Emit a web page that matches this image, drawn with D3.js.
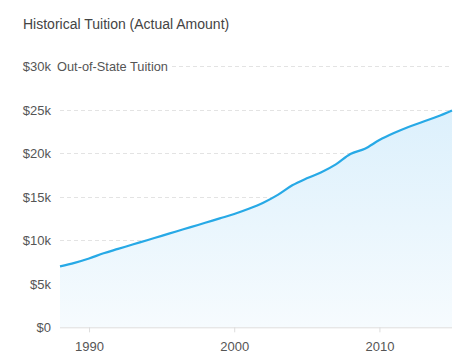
<!DOCTYPE html>
<html><head><meta charset="utf-8">
<script src="https://cdn.jsdelivr.net/npm/d3@7"></script>
<style>
html,body{margin:0;padding:0;background:#fff;}
svg{display:block;font-family:"Liberation Sans",Arial,sans-serif;}
</style></head>
<body><svg id="c" width="467" height="361"></svg>
<script>
const years = [1988,1989,1990,1991,1992,1993,1994,1995,1996,1997,1998,1999,2000,2001,2002,2003,2004,2005,2006,2007,2008,2009,2010,2011,2012,2013,2014,2015];
const tuition = [7000,7400,7900,8500,9000,9500,10000,10500,11000,11500,12000,12500,13000,13600,14300,15200,16300,17100,17800,18700,19900,20500,21500,22300,23000,23600,24200,24900];
const yTicks = [0,5000,10000,15000,20000,25000,30000];
const xTicks = [1990,2000,2010];
const title = "Historical Tuition (Actual Amount)";
const seriesName = "Out-of-State Tuition";

(function(){
const svg = d3.select("#c");
const mL = 60, mR = 452, mT = 66, mB = 327.3;
const x = d3.scaleLinear().domain([1988,2015]).range([mL,mR]);
const y = d3.scaleLinear().domain([0,30000]).range([mB,mT]);
const data = years.map((d,i)=>({year:d,v:tuition[i]}));

const defs = svg.append("defs");
const g = defs.append("linearGradient").attr("id","fill").attr("x1",0).attr("y1",0).attr("x2",0).attr("y2",1);
g.append("stop").attr("offset","0%").attr("stop-color","#dcf0fc");
g.append("stop").attr("offset","100%").attr("stop-color","#f6fbfe");

svg.append("text").attr("x",23).attr("y",28.5).attr("font-size",14).attr("fill","#444").text(title);

svg.append("g").selectAll("line").data(yTicks.filter(d=>d>0)).join("line")
  .attr("x1",mL).attr("x2",mR).attr("y1",d=>Math.round(y(d))+0.5).attr("y2",d=>Math.round(y(d))+0.5)
  .attr("stroke","#e3e3e3").attr("stroke-dasharray","4,3");

svg.append("path").datum(data)
  .attr("d",d3.area().x(d=>x(d.year)).y0(mB).y1(d=>y(d.v)).curve(d3.curveMonotoneX))
  .attr("fill","url(#fill)");
svg.append("path").datum(data)
  .attr("d",d3.line().x(d=>x(d.year)).y(d=>y(d.v)).curve(d3.curveMonotoneX))
  .attr("fill","none").attr("stroke","#27a9e6").attr("stroke-width",2.2);

const fmt = d => d===0 ? "$0" : "$" + (d/1000) + "k";
svg.append("g").selectAll("text").data(yTicks).join("text")
  .attr("x",51).attr("y",d=>y(d)+5).attr("text-anchor","end")
  .attr("font-size",13).attr("fill","#555").text(fmt);

const lbl = svg.append("text").attr("x",57).attr("y",y(30000)+5).attr("font-size",12.8).attr("fill","#555").text(seriesName);
const bb = lbl.node().getBBox();
svg.insert("rect", function(){return lbl.node();}).attr("x",bb.x-2).attr("y",bb.y).attr("width",bb.width+6).attr("height",bb.height).attr("fill","#fff");

const xa = svg.append("g").attr("transform",`translate(0,${mB})`)
  .call(d3.axisBottom(x).tickValues(xTicks).tickFormat(d3.format("d")).tickSize(5).tickSizeOuter(0));
xa.select(".domain").attr("stroke","#ddd").attr("d",`M${mL},0.5H${mR}`);
xa.selectAll(".tick line").attr("stroke","#ddd");
xa.selectAll(".tick text").attr("font-size",13).attr("fill","#555").attr("y",0).attr("dy",0).attr("transform","translate(0,24)").attr("font-family","Liberation Sans, Arial, sans-serif");
})();
</script></body></html>
